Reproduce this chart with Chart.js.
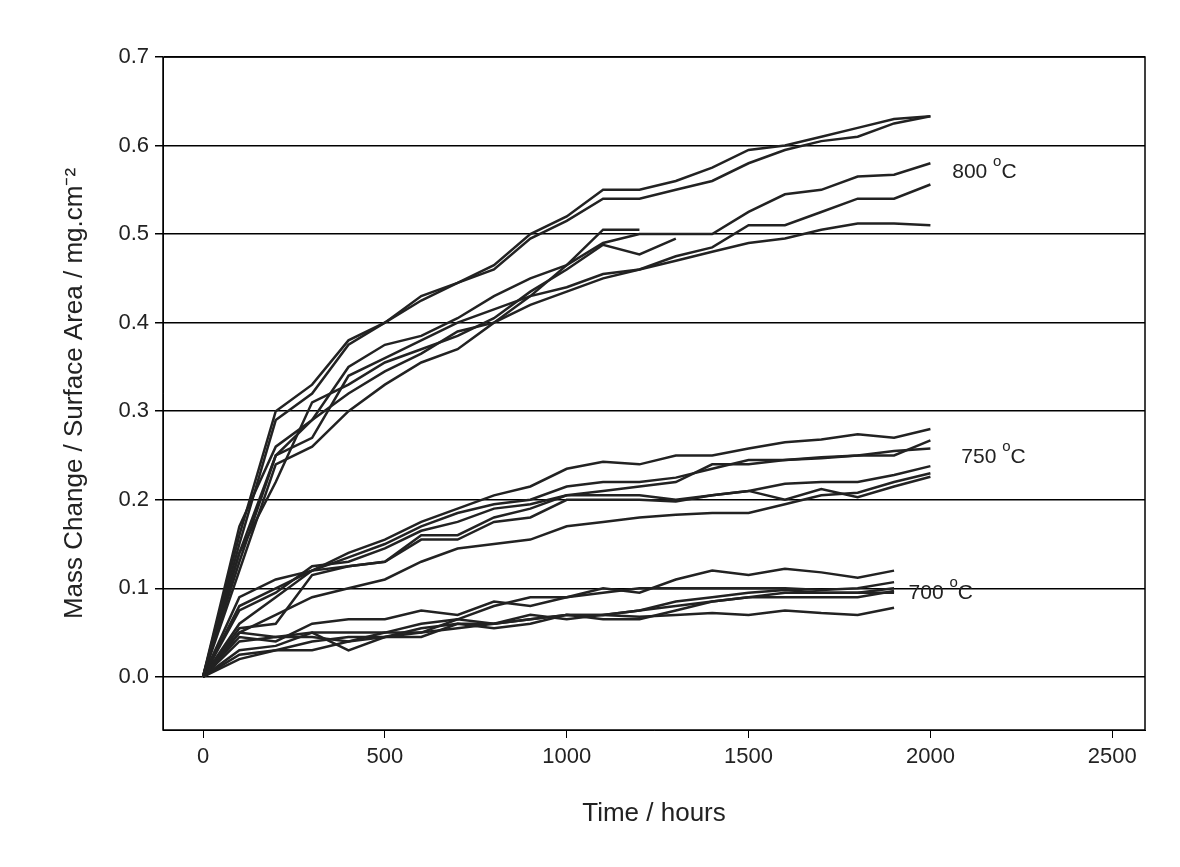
<!DOCTYPE html>
<html>
<head>
<meta charset="utf-8">
<script src="https://cdn.jsdelivr.net/npm/chart.js@4/dist/chart.umd.min.js"></script>
<style>
  html, body { margin: 0; padding: 0; background: #fff; }
  #wrap { width: 1180px; height: 867px; }
</style>
</head>
<body>
<div id="wrap"><canvas id="massChart"></canvas></div>
<script>
// --- Data ---
const hours = [0,100,200,300,400,500,600,700,800,900,1000,1100,1200,1300,1400,1500,1600,1700,1800,1900,2000];

const series800 = [
  [0,.16,.30,.33,.38,.40,.43,.445,.465,.50,.52,.55,.55,.56,.575,.595,.60,.61,.62,.63,.633],
  [0,.15,.29,.32,.375,.40,.425,.445,.46,.495,.515,.54,.54,.55,.56,.58,.595,.605,.61,.625,.633],
  [0,.14,.25,.29,.35,.375,.385,.405,.43,.45,.465,.49,.50,.50,.50,.525,.545,.55,.565,.567,.58],
  [0,.13,.25,.27,.34,.36,.38,.40,.415,.43,.44,.455,.46,.475,.485,.51,.51,.525,.54,.54,.556],
  [0,.12,.24,.26,.30,.33,.355,.37,.40,.42,.435,.45,.46,.47,.48,.49,.495,.505,.512,.512,.51],
  [0,.17,.26,.29,.32,.345,.365,.39,.40,.43,.465,.505,.505],
  [0,.14,.22,.31,.33,.355,.37,.385,.405,.435,.46,.488,.477,.495]
];
const series750 = [
  [0,.09,.11,.12,.14,.155,.175,.19,.205,.215,.235,.243,.24,.25,.25,.258,.265,.268,.274,.27,.28],
  [0,.08,.10,.12,.135,.15,.17,.185,.195,.20,.215,.22,.22,.225,.235,.245,.245,.248,.25,.25,.267],
  [0,.075,.095,.125,.13,.145,.165,.175,.19,.195,.205,.21,.215,.22,.24,.24,.245,.247,.25,.255,.258],
  [0,.06,.09,.12,.125,.13,.16,.16,.18,.19,.205,.205,.205,.20,.205,.21,.218,.22,.22,.228,.238],
  [0,.055,.06,.115,.125,.13,.155,.155,.175,.18,.20,.20,.20,.198,.205,.21,.20,.212,.203,.215,.226],
  [0,.05,.07,.09,.10,.11,.13,.145,.15,.155,.17,.175,.18,.183,.185,.185,.195,.205,.208,.22,.23]
];
const series700 = [
  [0,.045,.04,.06,.065,.065,.075,.07,.085,.08,.09,.10,.095,.11,.12,.115,.122,.118,.112,.12],
  [0,.05,.045,.05,.05,.05,.06,.065,.08,.09,.09,.095,.10,.10,.10,.10,.10,.098,.10,.107],
  [0,.04,.045,.045,.04,.045,.05,.065,.06,.065,.07,.07,.075,.085,.09,.095,.098,.095,.095,.10],
  [0,.03,.035,.05,.03,.045,.045,.06,.055,.06,.07,.065,.065,.075,.085,.09,.09,.09,.09,.097],
  [0,.02,.03,.03,.04,.05,.05,.055,.06,.07,.065,.07,.068,.07,.072,.07,.075,.072,.07,.078],
  [0,.025,.03,.04,.045,.045,.055,.06,.06,.065,.07,.07,.075,.08,.085,.09,.095,.095,.095,.095]
];

const xTicks = [0,500,1000,1500,2000,2500];
const yTicks = [0,.1,.2,.3,.4,.5,.6,.7];

const tempLabels = [
  { text: '800', x: 2060, y: 0.57 },
  { text: '750', x: 2085, y: 0.248 },
  { text: '700', x: 1940, y: 0.095 }
];

const FONT = 'Liberation Sans, Arial, sans-serif';

function toPoints(vals) {
  return vals.map((v, i) => ({ x: hours[i], y: v }));
}

const datasets = [...series800, ...series750, ...series700].map(vals => ({
  data: toPoints(vals),
  borderColor: '#222',
  borderWidth: 2.5,
  pointRadius: 0,
  fill: false,
  tension: 0
}));

// frame + temperature labels
const framePlugin = {
  id: 'frame',
  afterDraw(chart) {
    const { ctx, chartArea: a, scales } = chart;
    ctx.save();
    ctx.strokeStyle = '#000';
    ctx.lineWidth = 1.5;
    ctx.strokeRect(a.left, a.top, a.right - a.left, a.bottom - a.top);
    ctx.fillStyle = '#222';
    ctx.textBaseline = 'middle';
    tempLabels.forEach(l => {
      const px = scales.x.getPixelForValue(l.x);
      const py = scales.y.getPixelForValue(l.y);
      ctx.font = '21px ' + FONT;
      ctx.fillText(l.text + ' ', px, py);
      const w = ctx.measureText(l.text + ' ').width;
      ctx.font = '15px ' + FONT;
      ctx.fillText('o', px + w, py - 10);
      const w2 = ctx.measureText('o').width;
      ctx.font = '21px ' + FONT;
      ctx.fillText('C', px + w + w2, py);
    });
    ctx.restore();
  }
};

new Chart(document.getElementById('massChart'), {
  type: 'line',
  data: { datasets },
  options: {
    responsive: true, maintainAspectRatio: false,
    animation: false,
    layout: { padding: { top: 57, right: 35, left: 55, bottom: 34 } },
    plugins: { legend: { display: false }, tooltip: { enabled: false } },
    scales: {
      x: {
        type: 'linear', min: -110, max: 2590,
        afterBuildTicks: s => { s.ticks = xTicks.map(v => ({ value: v })); },
        afterFit: s => { s.height = 103; },
        grid: { drawOnChartArea: false, color: '#000', tickLength: 8 },
        border: { color: '#000' },
        ticks: { color: '#222', font: { family: FONT, size: 22 }, padding: 6, callback: v => String(v) },
        title: { display: true, text: 'Time / hours', color: '#222', font: { family: FONT, size: 26 } }
      },
      y: {
        min: -0.06, max: 0.7,
        afterBuildTicks: s => { s.ticks = yTicks.map(v => ({ value: v })); },
        afterFit: s => { s.width = 108; },
        grid: { color: '#000', lineWidth: 1.5, tickLength: 8 },
        border: { color: '#000' },
        ticks: { color: '#222', font: { family: FONT, size: 22 }, padding: 6, callback: v => v.toFixed(1) },
        title: { display: true, text: 'Mass Change / Surface Area / mg.cm⁻²', color: '#222', font: { family: FONT, size: 26 } }
      }
    }
  },
  plugins: [framePlugin]
});
</script>
</body>
</html>
